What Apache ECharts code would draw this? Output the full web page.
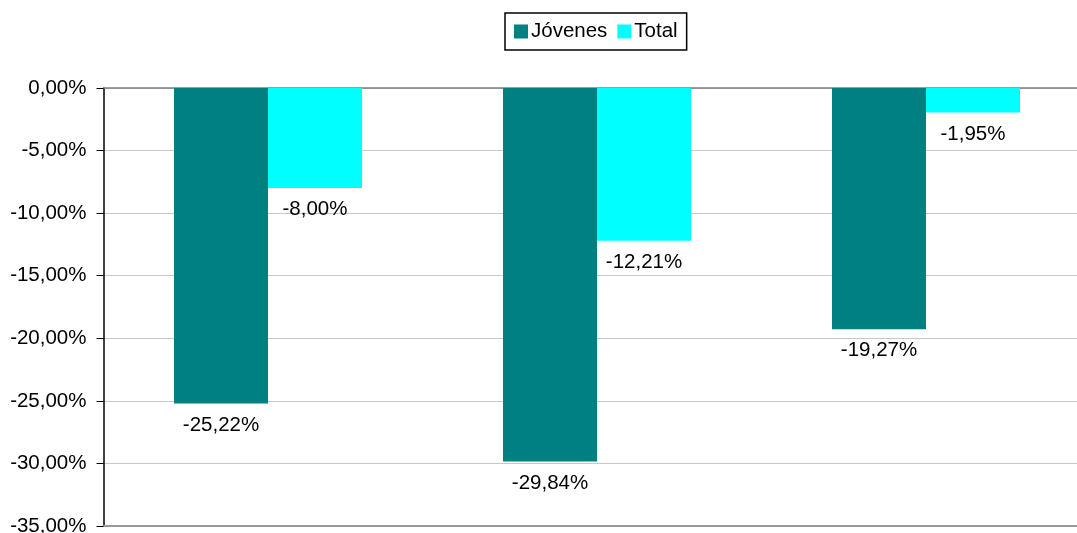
<!DOCTYPE html>
<html><head><meta charset="utf-8">
<script src="https://cdn.jsdelivr.net/npm/echarts@6/dist/echarts.min.js"></script>
<style>html,body{margin:0;padding:0;background:#fff;overflow:hidden}#c{width:1077px;height:533px}</style>
</head><body><div id="c"></div>
<script>
const categories = ['', '', ''];
const jovenes = [-25.22, -29.84, -19.27];
const total = [-8.00, -12.21, -1.95];
const seriesNames = ['Jóvenes', 'Total'];

function fmt(v){ const s = Math.abs(v) < 1e-9 ? '0,00' : v.toFixed(2).replace('.', ','); return s + '%'; }
const font = 'Liberation Sans, Arial, sans-serif';
const fs = 20.5;
const chart = echarts.init(document.getElementById('c'));
chart.setOption({
  animation: false,
  grid: { left: 103.5, top: 88, width: 987, height: 438, containLabel: false, outerBoundsMode: 'none' },
  legend: {
    top: 13, left: 505, padding: [8, 9, 8, 9],
    borderColor: '#000', borderWidth: 1.5,
    itemWidth: 14, itemHeight: 14, itemGap: 10,
    icon: 'rect',
    textStyle: { fontFamily: font, fontSize: fs, color: '#000', padding: [0,0,0,-2] },
    data: seriesNames
  },
  xAxis: [{
    type: 'category', data: categories,
    axisLine: { onZero: true, lineStyle: { color: '#808080', width: 1.5 } },
    axisTick: { show: false }, axisLabel: { show: false }
  }, {
    type: 'category', data: categories, position: 'bottom',
    axisLine: { onZero: false, lineStyle: { color: '#999', width: 2 } },
    axisTick: { show: false }, axisLabel: { show: false }
  }],
  yAxis: {
    type: 'value', min: -35, max: 0, interval: 5,
    axisLine: { show: true, lineStyle: { color: '#000', width: 1.5 } },
    axisTick: { show: true, length: 7, lineStyle: { color: '#000' } },
    axisLabel: { formatter: fmt, fontFamily: font, fontSize: fs, color: '#000', margin: 17 },
    splitLine: { lineStyle: { color: '#c8c8c8', width: 1 } }
  },
  series: [{
    name: seriesNames[0], type: 'bar', data: jovenes, barWidth: 94, barGap: '0%',
    itemStyle: { color: '#008080' },
    label: { show: true, position: 'bottom', distance: 11, formatter: p => fmt(p.value), fontFamily: font, fontSize: fs, color: '#000' }
  }, {
    name: seriesNames[1], type: 'bar', data: total, barWidth: 94, barGap: '0%',
    itemStyle: { color: '#00FFFF' },
    label: { show: true, position: 'bottom', distance: 11, formatter: p => fmt(p.value), fontFamily: font, fontSize: fs, color: '#000' }
  }]
});
</script></body></html>
